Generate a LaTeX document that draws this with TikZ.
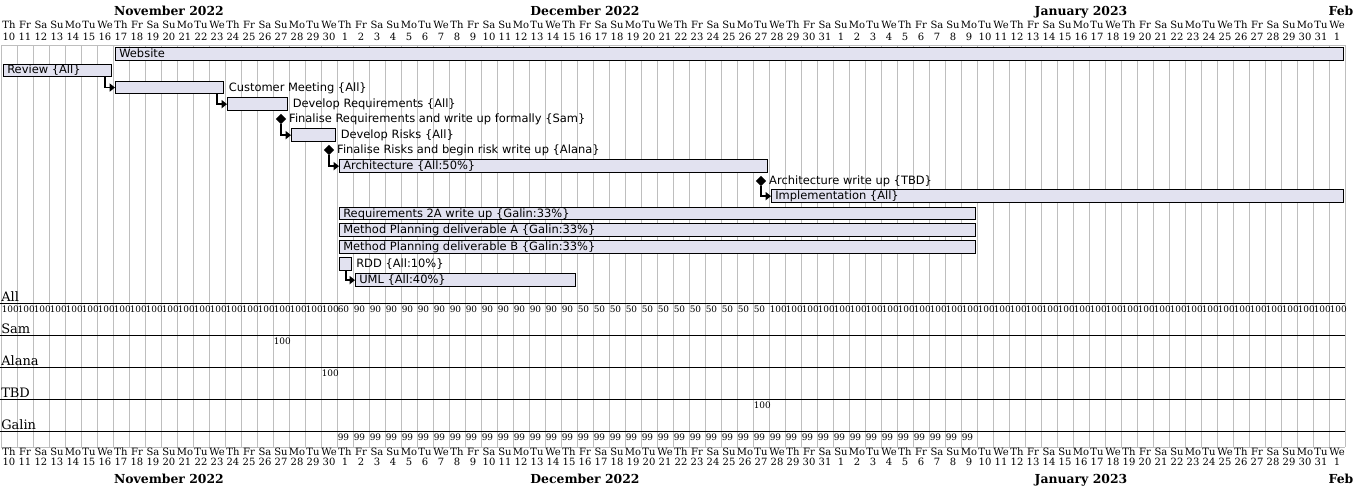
\documentclass[tikz,border=0pt]{standalone}
\usepackage{fontspec}
\setmainfont{DejaVu Serif}
\newfontfamily\tasksans{DejaVu Sans}
\usetikzlibrary{arrows.meta,shapes.geometric,calc}

\definecolor{barfill}{RGB}{226,226,240}
\definecolor{gridgray}{RGB}{190,190,190}

% bar: name, first day, last day, top
\newcommand{\taskbar}[4]{%
  \node[bar, minimum width={(16*(#3-#2+1)-4)*0.75pt}] (#1) at ({3+16*#2},#4) {};}
% milestone: name, day, centre
\newcommand{\milestone}[3]{%
  \node[mstone] (#1) at ({9+16*#2},#3) {};}

\begin{document}
\begin{tikzpicture}[x=0.75pt, y=-0.75pt,
  bar/.style={draw=black, line width=0.75pt, fill=barfill, minimum height=9.5pt, inner sep=0pt, anchor=north west},
  mstone/.style={diamond, fill=black, minimum width=7.8pt, minimum height=7.8pt, inner sep=0pt},
  tasklabel/.style={font=\tasksans\fontsize{8.6}{10}\selectfont, inner sep=0pt, anchor=base west},
  dep/.style={line width=1.1pt, -{Triangle[length=4pt,width=6pt]}},
  gridline/.style={draw=gridgray, line width=0.6pt},
  dayname/.style={font=\fontsize{7.5}{9}\selectfont, inner sep=0pt, anchor=base},
  monthname/.style={font=\bfseries\fontsize{9.3}{11}\selectfont, inner sep=0pt, anchor=base},
  resname/.style={font=\fontsize{9.75}{11}\selectfont, inner sep=0pt, anchor=base west},
  load/.style={font=\fontsize{6.7}{7}\selectfont, inner sep=0pt, anchor=base west},
  resline/.style={draw=black, line width=0.75pt}]
\useasboundingbox (0,0) rectangle (1360,490);

% calendar grid
\foreach \d in {0,...,84}
  \draw[gridline] ({1+16*\d},45) -- ({1+16*\d},447);
\draw[gridline] (1,45) -- (1345,45);
\draw[gridline] (1,447) -- (1345,447);

% months
\node[monthname] (nov-t) at (169,15) {November 2022};
\node[monthname] (dec-t) at (585,15) {December 2022};
\node[monthname] (jan-t) at (1081,15) {January 2023};
\node[monthname] (feb-t) at (1341,15) {Feb};
\node[monthname] (nov-b) at (169,483) {November 2022};
\node[monthname] (dec-b) at (585,483) {December 2022};
\node[monthname] (jan-b) at (1081,483) {January 2023};
\node[monthname] (feb-b) at (1341,483) {Feb};

% week days
\foreach \w in {0,...,11}
  \foreach \dn [count=\k from 0] in {Th,Fr,Sa,Su,Mo,Tu,We} {
    \node[dayname] (hd-\w-\k) at ({9+16*(7*\w+\k)},28.6) {\dn};
    \node[dayname] (fd-\w-\k) at ({9+16*(7*\w+\k)},455) {\dn};
  }

% day numbers
\foreach \a/\b/\off in {10/30/0, 1/31/21, 1/31/52, 1/1/83}
  \foreach \n in {\a,...,\b} {
    \node[dayname] (hn-\off-\n) at ({9+16*(\off+\n-\a)},40.6) {\n};
    \node[dayname] (fn-\off-\n) at ({9+16*(\off+\n-\a)},465.3) {\n};
  }

% tasks
\taskbar{website}{7}{83}{47.3}
\taskbar{review}{0}{6}{63.5}
\taskbar{customer}{7}{13}{80.7}
\taskbar{devreq}{14}{17}{97.3}
\milestone{finreq}{17}{119}
\taskbar{devrisks}{18}{20}{128.3}
\milestone{finrisks}{20}{150}
\taskbar{arch}{21}{47}{159.3}
\milestone{archwu}{47}{181}
\taskbar{impl}{48}{83}{189.3}
\taskbar{reqtwoa}{21}{60}{206.7}
\taskbar{methA}{21}{60}{223.3}
\taskbar{methB}{21}{60}{240.3}
\taskbar{rdd}{21}{21}{257.3}
\taskbar{uml}{22}{35}{273.3}

\node[tasklabel] (website-l) at ($(website.west)+(4,3.6)$) {Website};
\node[tasklabel] (review-l) at ($(review.west)+(4,3.6)$) {Review \{All\}};
\node[tasklabel] (customer-l) at ($(customer.east)+(4.5,3.6)$) {Customer Meeting \{All\}};
\node[tasklabel] (devreq-l) at ($(devreq.east)+(4.5,3.6)$) {Develop Requirements \{All\}};
\node[tasklabel] (finreq-l) at ($(finreq.east)+(2.5,3.6)$) {Finalise Requirements and write up formally \{Sam\}};
\node[tasklabel] (devrisks-l) at ($(devrisks.east)+(4.5,3.6)$) {Develop Risks \{All\}};
\node[tasklabel] (finrisks-l) at ($(finrisks.east)+(2.5,3.6)$) {Finalise Risks and begin risk write up \{Alana\}};
\node[tasklabel] (arch-l) at ($(arch.west)+(4,3.6)$) {Architecture \{All:50\%\}};
\node[tasklabel] (archwu-l) at ($(archwu.east)+(2.5,3.6)$) {Architecture write up \{TBD\}};
\node[tasklabel] (impl-l) at ($(impl.west)+(4,3.6)$) {Implementation \{All\}};
\node[tasklabel] (reqtwoa-l) at ($(reqtwoa.west)+(4,3.6)$) {Requirements 2A write up \{Galin:33\%\}};
\node[tasklabel] (methA-l) at ($(methA.west)+(4,3.6)$) {Method Planning deliverable A \{Galin:33\%\}};
\node[tasklabel] (methB-l) at ($(methB.west)+(4,3.6)$) {Method Planning deliverable B \{Galin:33\%\}};
\node[tasklabel] (rdd-l) at ($(rdd.east)+(4,3.6)$) {RDD \{All:10\%\}};
\node[tasklabel] (uml-l) at ($(uml.west)+(4,3.6)$) {UML \{All:40\%\}};

% dependencies
\draw[dep] ($(review.south east)+(-7,0)$) |- (customer.west);
\draw[dep] ($(customer.south east)+(-7,0)$) |- (devreq.west);
\draw[dep] (finreq.south) |- (devrisks.west);
\draw[dep] (finrisks.south) |- (arch.west);
\draw[dep] (archwu.south) |- (impl.west);
\draw[dep] ($(rdd.south east)+(-6,0)$) |- (uml.west);

% resources
\node[resname] (all-r) at (1,301) {All};
\node[resname] (sam-r) at (1,333) {Sam};
\node[resname] (alana-r) at (1,365) {Alana};
\node[resname] (tbd-r) at (1,397) {TBD};
\node[resname] (galin-r) at (1,429.3) {Galin};
\foreach \y in {303.3,335.3,367.3,399.3,431.6}
  \draw[resline] (0,\y) -- (1345,\y);

\foreach \a/\b/\v in {0/20/100, 21/21/60, 22/35/90, 36/47/50, 48/83/100}
  \foreach \d in {\a,...,\b}
    \node[load] (all-\d) at ({1.5+16*\d},312) {\v};
\node[load] (sam-17) at ({1.5+16*17},344.5) {100};
\node[load] (alana-20) at ({1.5+16*20},376.5) {100};
\node[load] (tbd-47) at ({1.5+16*47},408.5) {100};
\foreach \d in {21,...,60}
  \node[load] (galin-\d) at ({1.5+16*\d},440.5) {99};
\end{tikzpicture}
\end{document}
